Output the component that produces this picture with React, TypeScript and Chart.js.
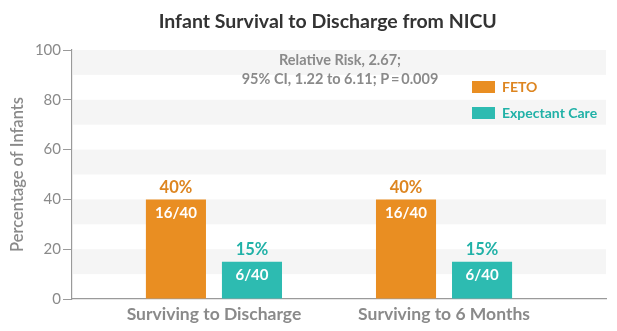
import React, { useEffect, useRef } from "react";
import { Chart, registerables } from "chart.js";

Chart.register(...registerables);

const categories = ["Surviving to Discharge", "Surviving to 6 Months"];
const seriesNames = ["FETO", "Expectant Care"];
const fetoValues = [40, 40];
const expectantValues = [15, 15];
const fetoCounts = ["16/40", "16/40"];
const expectantCounts = ["6/40", "6/40"];
const yTicks = [0, 20, 40, 60, 80, 100];
const titleText = "Infant Survival to Discharge from NICU";
const yAxisTitle = "Percentage of Infants";
const noteLines = ["Relative Risk, 2.67;", "95% CI, 1.22 to 6.11; P\u2009=\u20090.009"];

const ORANGE = "#E98E22";
const TEAL = "#2DBBB1";
const ORANGE_TXT = "#DD8520";
const TEAL_TXT = "#20B1A7";
const GRAY = "#8A8A8A";
const FONT = "Lato, 'Open Sans', sans-serif";

const bandsPlugin = {
  id: "bands",
  beforeDatasetsDraw(chart: any) {
    const { ctx, chartArea } = chart;
    const y = chart.scales.y;
    ctx.save();
    ctx.fillStyle = "#F5F5F5";
    y.ticks.forEach((t: any) => {
      if (t.value > 0) {
        const top = y.getPixelForValue(t.value);
        const bot = y.getPixelForValue(t.value - 10);
        ctx.fillRect(chartArea.left + 1, top, chartArea.right - chartArea.left - 1, bot - top);
      }
    });
    ctx.restore();
  },
};

const textPlugin = {
  id: "texts",
  afterDraw(chart: any) {
    const { ctx, chartArea, width } = chart;
    ctx.save();
    // title
    ctx.fillStyle = "#333333";
    ctx.font = `bold 19.5px ${FONT}`;
    ctx.textAlign = "center";
    ctx.textBaseline = "middle";
    ctx.fillText(titleText, width * 0.532, 14);
    // note
    ctx.fillStyle = GRAY;
    ctx.font = `bold 14.5px ${FONT}`;
    noteLines.forEach((line, i) => {
      ctx.fillText(line, chartArea.left + 268, 52 + i * 19);
    });
    // legend
    const lx = chartArea.left + 400;
    const colors = [ORANGE, TEAL];
    const txtColors = [ORANGE_TXT, TEAL_TXT];
    seriesNames.forEach((name, i) => {
      const yy = 79 + i * 26;
      ctx.fillStyle = colors[i];
      ctx.fillRect(lx, yy - 6, 23, 12);
      ctx.fillStyle = txtColors[i];
      ctx.font = `bold 14px ${FONT}`;
      ctx.textAlign = "left";
      ctx.fillText(name, lx + 30, yy);
    });
    // bar labels
    const counts = [fetoCounts, expectantCounts];
    chart.data.datasets.forEach((ds: any, di: number) => {
      const meta = chart.getDatasetMeta(di);
      meta.data.forEach((bar: any, i: number) => {
        ctx.textAlign = "center";
        ctx.textBaseline = "middle";
        ctx.fillStyle = txtColors[di];
        ctx.font = `bold 16.5px ${FONT}`;
        ctx.fillText(ds.data[i].y + "%", bar.x, bar.y - 12);
        ctx.fillStyle = "#FFFFFF";
        ctx.font = `bold 15px ${FONT}`;
        ctx.fillText(counts[di][i], bar.x, bar.y + 14);
      });
    });
    ctx.restore();
  },
};

export default function App() {
  const ref = useRef<HTMLCanvasElement | null>(null);
  useEffect(() => {
    if (!ref.current) return;
    const chart = new Chart(ref.current, {
      type: "bar",
      data: {
        datasets: [
          {
            label: seriesNames[0],
            data: fetoValues.map((v, i) => ({ x: i, y: v })),
            backgroundColor: ORANGE,
          },
          {
            label: seriesNames[1],
            data: expectantValues.map((v, i) => ({ x: i, y: v })),
            backgroundColor: TEAL,
          },
        ],
      },
      options: {
        animation: false,
        responsive: true,
        maintainAspectRatio: false,
        layout: { padding: { top: 42, right: 3, left: 0, bottom: 0 } },
        datasets: { bar: { categoryPercentage: 0.661, barPercentage: 0.79 } },
        plugins: { legend: { display: false }, tooltip: { enabled: false }, title: { display: false } },
        scales: {
          x: {
            type: "linear",
            offset: false,
            bounds: "data",
            min: -0.617,
            max: 1.704,
            afterBuildTicks: (s: any) => {
              s.ticks = categories.map((_, i) => ({ value: i }));
            },
            afterFit: (s: any) => {
              s.height = 24;
            },
            grid: { drawOnChartArea: false, drawTicks: false, color: "#9A9A9A" },
            border: { display: true, color: "#9A9A9A", width: 1.2 },
            ticks: {
              padding: 5,
              color: GRAY,
              font: { family: FONT, size: 17.5, weight: "bold" },
              callback: (v: any) => categories[v] ?? "",
              maxRotation: 0,
              autoSkip: false,
            },
          },
          y: {
            min: 0,
            max: 100,
            afterBuildTicks: (s: any) => {
              s.ticks = yTicks.map((v) => ({ value: v }));
            },
            afterFit: (s: any) => {
              s.width = 64;
            },
            grid: { drawOnChartArea: false, drawTicks: true, tickLength: 9, color: "#9A9A9A" },
            border: { display: true, color: "#9A9A9A", width: 1.2 },
            ticks: { padding: 2, color: GRAY, font: { family: FONT, size: 15 } },
            title: {
              display: true,
              text: yAxisTitle,
              color: GRAY,
              padding: { top: 0, bottom: 0 },
              font: { family: FONT, size: 16.5, weight: "600" },
            },
          },
        },
      },
      plugins: [bandsPlugin, textPlugin],
    } as any);
    return () => chart.destroy();
  }, []);
  return (
    <div style={{ width: 601, height: 315, position: "relative" }}>
      <canvas ref={ref} />
    </div>
  );
}
